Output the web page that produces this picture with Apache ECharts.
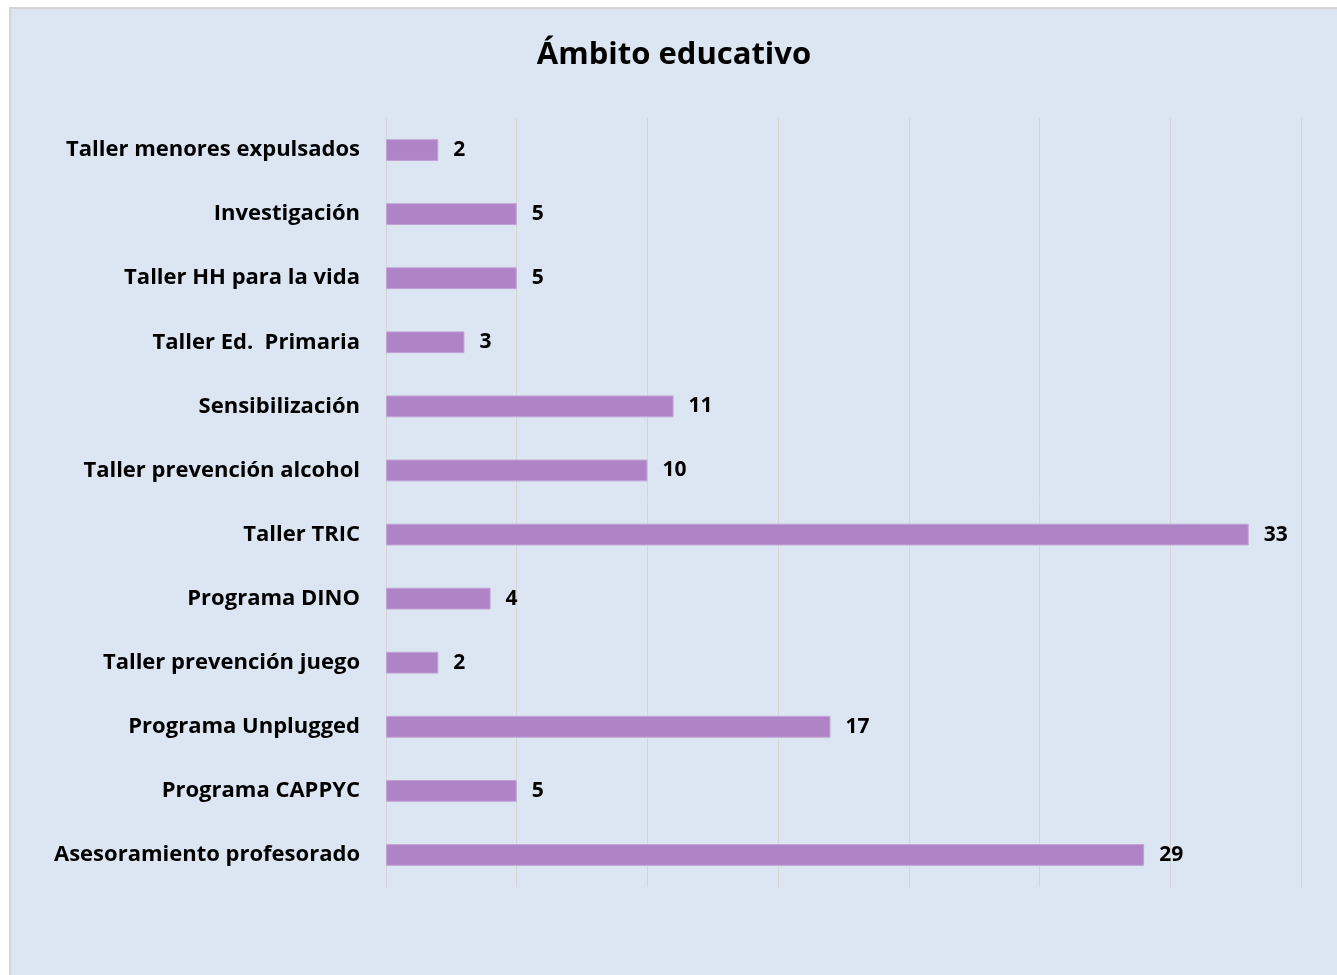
<!DOCTYPE html>
<html>
<head>
<meta charset="utf-8">
<style>
  html, body { margin: 0; padding: 0; background: #ffffff; }
  #chart { width: 1337px; height: 975px; }
</style>
<script src="https://cdn.jsdelivr.net/npm/echarts@6/dist/echarts.min.js"></script>
</head>
<body>
<div id="chart"></div>
<script>
// Activities in the educational area, listed top to bottom
const categories = [
  'Taller menores expulsados',
  'Investigación',
  'Taller HH para la vida',
  'Taller Ed.  Primaria',
  'Sensibilización',
  'Taller prevención alcohol',
  'Taller TRIC',
  'Programa DINO',
  'Taller prevención juego',
  'Programa Unplugged',
  'Programa CAPPYC',
  'Asesoramiento profesorado'
];
const values = [2, 5, 5, 3, 11, 10, 33, 4, 2, 17, 5, 29];

const FONT = '"Open Sans", Lato, sans-serif';

const chart = echarts.init(document.getElementById('chart'), null, { renderer: 'canvas' });
chart.setOption({
  backgroundColor: '#ffffff',
  animation: false,
  graphic: [{
    type: 'rect',
    z: -10,
    silent: true,
    shape: { x: 10, y: 8, width: 1345, height: 985 },
    style: { fill: '#dce6f2', stroke: '#d4d4d4', lineWidth: 2 }
  }],
  title: {
    text: 'Ámbito educativo',
    left: 669,
    top: 35,
    textAlign: 'center',
    textStyle: { fontFamily: FONT, fontSize: 31, fontWeight: 'bold', color: '#000000' }
  },
  grid: { left: 386, right: 36, top: 118, bottom: 88, containLabel: false },
  xAxis: {
    type: 'value',
    min: 0,
    max: 35,
    interval: 5,
    axisLabel: { show: false },
    axisLine: { show: false },
    axisTick: { show: false },
    splitLine: { show: true, lineStyle: { color: '#d5d5d5', width: 1 } }
  },
  yAxis: {
    type: 'category',
    data: categories,
    inverse: true,
    axisLine: { show: true, lineStyle: { color: '#d5d5d5', width: 1 } },
    axisTick: { show: false },
    axisLabel: {
      margin: 26,
      padding: [3, 0, 0, 0],
      fontFamily: FONT,
      fontSize: 22,
      fontWeight: 'bold',
      color: '#000000'
    }
  },
  series: [{
    type: 'bar',
    data: values,
    barWidth: '34%',
    itemStyle: { color: '#ae84c6', borderColor: '#c3a2d6', borderWidth: 1 },
    label: {
      show: true,
      position: 'right',
      distance: 15,
      padding: [3, 0, 0, 0],
      fontFamily: FONT,
      fontSize: 21,
      fontWeight: 'bold',
      color: '#000000'
    }
  }]
});
</script>
</body>
</html>
